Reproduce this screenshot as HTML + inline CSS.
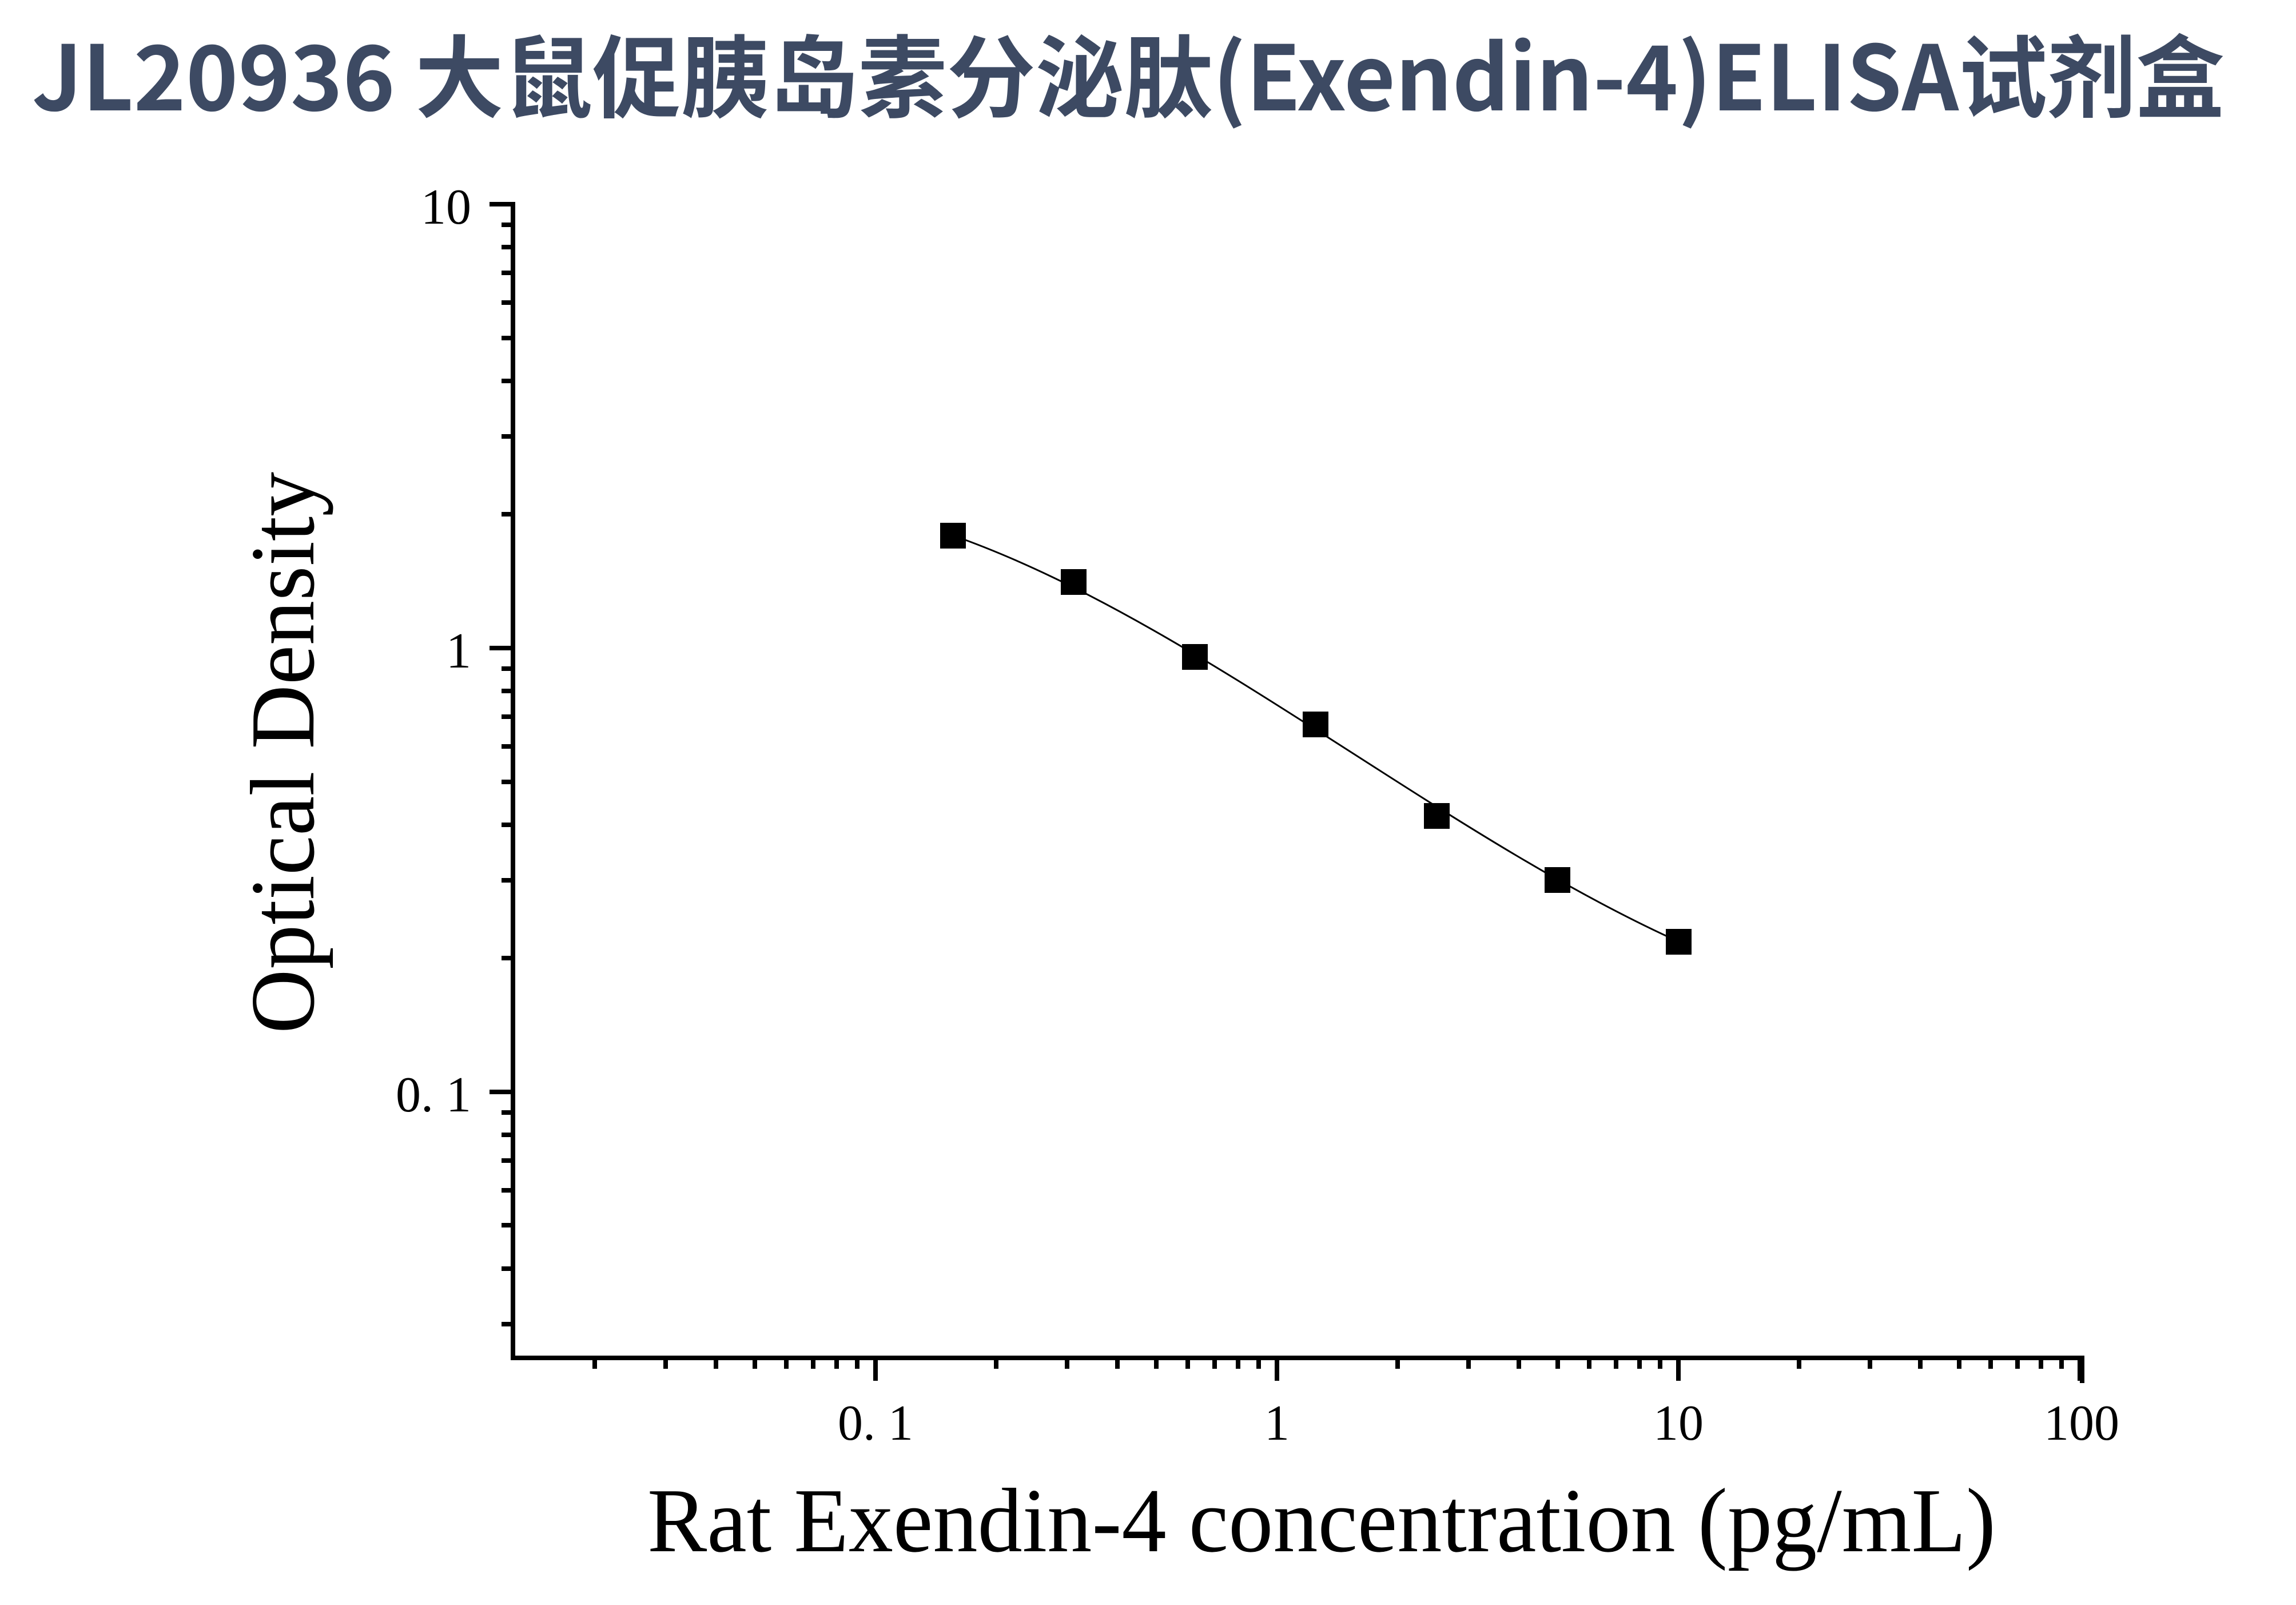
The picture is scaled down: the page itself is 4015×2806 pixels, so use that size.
<!DOCTYPE html>
<html><head><meta charset="utf-8"><style>
html,body{margin:0;padding:0;background:#fff;}
svg{display:block;}
</style></head><body>
<svg width="4015" height="2806" viewBox="0 0 4015 2806" xmlns="http://www.w3.org/2000/svg">
<rect width="4015" height="2806" fill="#fff"/>
<text x="56" y="193" font-family="'Noto Sans CJK SC','Liberation Sans',sans-serif" font-weight="bold" font-size="157" fill="#3d4a63" textLength="3834" lengthAdjust="spacingAndGlyphs">JL20936 大鼠促胰岛素分泌肽(Exendin-4)ELISA试剂盒</text>
<g stroke="#000" stroke-width="8" fill="none">
<path d="M897 353 V2378 M893 2374 H3641 V2418"/>
<path d="M856 357 H897 M856 1133 H897 M856 1909 H897"/>
<path d="M877 393H897M877 432H897M877 477H897M877 529H897M877 591H897M877 666H897M877 763H897M877 899H897
M877 1169H897M877 1208H897M877 1253H897M877 1305H897M877 1367H897M877 1442H897M877 1539H897M877 1675H897
M877 1945H897M877 1984H897M877 2029H897M877 2081H897M877 2142H897M877 2218H897M877 2315H897"/>
<path d="M1531 2374V2414M2233 2374V2414M2935 2374V2414M3637 2374V2414"/>
<path d="M1040 2374V2393M1164 2374V2393M1252 2374V2393M1320 2374V2393M1375 2374V2393M1422 2374V2393M1463 2374V2393M1499 2374V2393
M1742 2374V2393M1866 2374V2393M1954 2374V2393M2022 2374V2393M2077 2374V2393M2124 2374V2393M2165 2374V2393M2201 2374V2393
M2444 2374V2393M2568 2374V2393M2656 2374V2393M2724 2374V2393M2779 2374V2393M2826 2374V2393M2867 2374V2393M2903 2374V2393
M3146 2374V2393M3270 2374V2393M3358 2374V2393M3426 2374V2393M3481 2374V2393M3528 2374V2393M3569 2374V2393M3605 2374V2393"/>
</g>
<g font-family="'Liberation Serif',serif" font-size="88" fill="#000">
<text x="824" y="391" text-anchor="end">10</text>
<text x="824" y="1167" text-anchor="end">1</text>
<text x="824" y="1943" text-anchor="end">0. 1</text>
<text x="1531" y="2517" text-anchor="middle">0. 1</text>
<text x="2233" y="2517" text-anchor="middle">1</text>
<text x="2935" y="2517" text-anchor="middle">10</text>
<text x="3640" y="2517" text-anchor="middle">100</text>
</g>
<text x="1132" y="2712" font-family="'Liberation Serif',serif" font-size="160" fill="#000" textLength="2358" lengthAdjust="spacingAndGlyphs">Rat Exendin-4 concentration (pg/mL)</text>
<text transform="translate(548 1807) rotate(-90)" x="0" y="0" font-family="'Liberation Serif',serif" font-size="160" fill="#000" textLength="982" lengthAdjust="spacingAndGlyphs">Optical Density</text>
<path d="M1666 936 C2089 1085 2512 1455 2935 1646" stroke="#000" stroke-width="3" fill="none"/>
<g fill="#000">
<rect x="1644" y="914" width="45" height="45"/>
<rect x="1855" y="995" width="45" height="45"/>
<rect x="2067" y="1126" width="45" height="45"/>
<rect x="2278" y="1244" width="45" height="45"/>
<rect x="2490" y="1404" width="45" height="45"/>
<rect x="2701" y="1516" width="45" height="45"/>
<rect x="2913" y="1624" width="45" height="45"/>
</g>
</svg>
</body></html>
